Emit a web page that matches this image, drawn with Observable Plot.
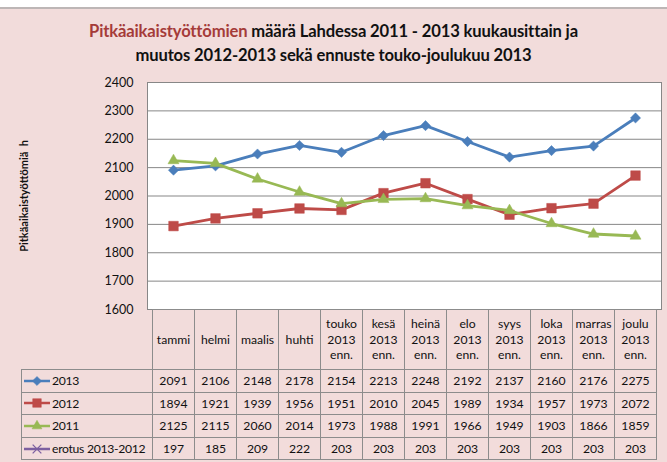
<!DOCTYPE html>
<html><head><meta charset="utf-8">
<script src="https://cdn.jsdelivr.net/npm/d3@7"></script>
<script src="https://cdn.jsdelivr.net/npm/@observablehq/plot@0.6"></script>
<style>
body{margin:0;background:#fff;}
#wrap{position:relative;width:667px;height:462px;overflow:hidden;font-family:Lato,"Liberation Sans",sans-serif;}
#bg{position:absolute;left:0;top:7px;width:667px;height:455px;background:#f2dcdb;border-top:2px solid #bdb6b6}
#title{position:absolute;top:19px;left:0;width:667px;text-align:center;font-weight:bold;font-size:16.6px;line-height:24px;color:#111;letter-spacing:-0.15px}
#title .hl{color:#a53b39}
#chart{position:absolute;left:0;top:62px}
.cell{position:absolute;box-sizing:border-box;border:1px solid #8c8c8c;display:flex;align-items:center;justify-content:center;text-align:center;font-size:12.2px;color:#111;line-height:15.5px;background:#f2dcdb;white-space:nowrap}
.lab{justify-content:flex-start;padding-left:1px;letter-spacing:-0.3px}
.lab svg{margin-right:1px}
</style></head>
<body><div id="wrap"><div id="bg"></div>
<div id="title"><span class="hl">Pitkäaikaistyöttömien</span> määrä Lahdessa 2011 - 2013 kuukausittain ja<br>muutos 2012-2013 sekä ennuste touko-joulukuu 2013</div>
<div id="chart"></div>
</div>
<script>
const months = ["tammi","helmi","maalis","huhti","touko\n2013\nenn.","kesä\n2013\nenn.","heinä\n2013\nenn.","elo\n2013\nenn.","syys\n2013\nenn.","loka\n2013\nenn.","marras\n2013\nenn.","joulu\n2013\nenn."];
const v2013 = [2091,2106,2148,2178,2154,2213,2248,2192,2137,2160,2176,2275];
const v2012 = [1894,1921,1939,1956,1951,2010,2045,1989,1934,1957,1973,2072];
const v2011 = [2125,2115,2060,2014,1973,1988,1991,1966,1949,1903,1866,1859];
const erotus = [197,185,209,222,203,203,203,203,203,203,203,203];
const seriesNames = ["2013","2012","2011","erotus 2013-2012"];
const seriesValues = [v2013, v2012, v2011, erotus];
const seriesColors = ["#4a7ebb","#be4b48","#98b954","#7d60a0"];
const seriesSymbols = ["diamond2","square","triangle","times"];
const seriesR = [4.6, 5.4, 4.1, 4.5];
const yTicks = [1600,1700,1800,1900,2000,2100,2200,2300,2400];
const yTitle = "Pitkäaikaistyöttömiä  h";

const data = seriesNames.flatMap((s,i)=>months.map((m,j)=>({series:s, month:m, value:seriesValues[i][j]})));
const font = "Lato, Liberation Sans, sans-serif";

const marks = [
  Plot.frame({fill:"white"}),
  Plot.gridY(yTicks, {stroke:"#878787", strokeOpacity:1}),
  Plot.frame({stroke:"#878787"}),
  Plot.axisY(yTicks, {tickSize:0, tickPadding:14, fontSize:12.5, label:null, fill:"#111", tickFormat:d=>String(d)}),
  Plot.text([yTitle], {frameAnchor:"left", textAnchor:"middle", rotate:-90, dx:-123, fontWeight:"bold", fontSize:11, fill:"#111"})
];
seriesNames.forEach((s,i)=>{
  const d = data.filter(r=>r.series===s);
  marks.push(Plot.line(d, {x:"month", y:"value", stroke:seriesColors[i], strokeWidth:2.8, clip:true}));
  marks.push(Plot.dot(d, {x:"month", y:"value", symbol:()=>seriesSymbols[i], fill: i<3 ? seriesColors[i] : "none", stroke:seriesColors[i], strokeWidth: i<3?0.5:1.5, r: seriesR[i], clip:true}));
});

const H = 262, MB = 15;
const chart = Plot.plot({
  width:667, height:H, marginTop:20, marginBottom:MB, marginLeft:147, marginRight:6,
  style:{background:"transparent", fontFamily:font},
  x:{type:"band", domain:months, padding:0, axis:null},
  y:{domain:[1600,2400], axis:null},
  symbol:{type:"identity"},
  marks
});
document.getElementById("chart").appendChild(chart);

// data table aligned to the x scale
const wrap = document.getElementById("wrap");
const xs = chart.scale("x");
const bw = xs.bandwidth;
const top0 = 62 + H - MB;
const headH = 60, rowH = 22.6;
const labLeft = 21;
function cell(left, top, w, h, html, cls){
  const c = document.createElement("div");
  c.className = "cell" + (cls? " "+cls : "");
  c.style.left = left+"px"; c.style.top = top+"px";
  c.style.width = (w+1)+"px"; c.style.height = (h+1)+"px";
  c.innerHTML = html;
  wrap.appendChild(c);
}
months.forEach((m)=>{
  cell(xs.apply(m), top0, bw, headH, m.split("\n").join("<br>"));
});
const legendSyms = [d3.symbolDiamond2, d3.symbolSquare, d3.symbolTriangle, d3.symbolX];
seriesNames.forEach((s,i)=>{
  const top = top0 + headH + i*rowH;
  const sw = d3.create("svg").attr("width",28).attr("height",12);
  sw.append("line").attr("x1",1).attr("x2",27).attr("y1",6).attr("y2",6).attr("stroke",seriesColors[i]).attr("stroke-width",2.5);
  sw.append("path").attr("transform","translate(14,6)")
    .attr("d", d3.symbol(legendSyms[i], Math.PI*seriesR[i]*seriesR[i]*0.8)())
    .attr("fill", i<3?seriesColors[i]:"none").attr("stroke",seriesColors[i]).attr("stroke-width",i===3?1.3:0.5);
  cell(labLeft, top, xs.apply(months[0]) - labLeft, rowH, sw.node().outerHTML + "<span>"+s+"</span>", "lab");
  months.forEach((m,j)=>{
    cell(xs.apply(m), top, bw, rowH, String(seriesValues[i][j]));
  });
});
</script>
</body></html>
